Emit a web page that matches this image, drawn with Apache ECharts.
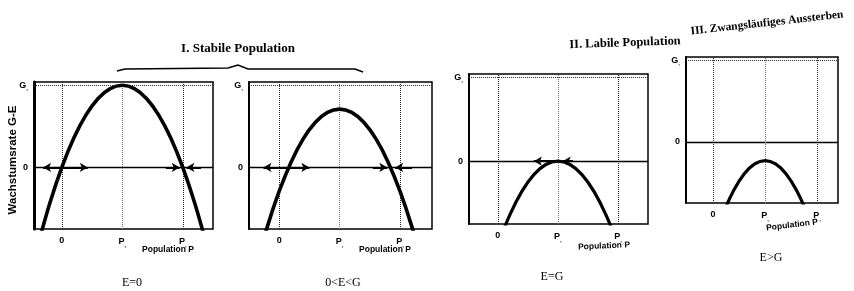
<!DOCTYPE html>
<html>
<head>
<meta charset="utf-8">
<title>Wachstumsrate G-E</title>
<script src="https://cdn.jsdelivr.net/npm/echarts@6/dist/echarts.min.js"></script>
<style>
  html, body { margin: 0; padding: 0; background: #fff; }
  #graph { width: 854px; height: 291px; }
</style>
</head>
<body>
<div id="graph"></div>
<script>
var chart = echarts.init(document.getElementById('graph'));

// Population (in Einheiten von P*) und Wachstumsrate G-E (in Einheiten von G)
var popX = [-0.4, -0.2, 0, 0.2, 0.4, 0.6, 0.8, 1.0, 1.2, 1.4, 1.6, 1.8, 2.0, 2.2, 2.4];
var rateE0 = [-0.96, -0.44, 0, 0.36, 0.64, 0.84, 0.96, 1.0, 0.96, 0.84, 0.64, 0.36, 0, -0.44, -0.96];
var rateEkleinG = [-1.25, -0.73, -0.29, 0.07, 0.35, 0.55, 0.67, 0.71, 0.67, 0.55, 0.35, 0.07, -0.29, -0.73, -1.25];
var rateEgleichG = [-1.96, -1.44, -1.0, -0.64, -0.36, -0.16, -0.04, 0, -0.04, -0.16, -0.36, -0.64, -1.0, -1.44, -1.96];
var rateEgrossG = [-2.19, -1.67, -1.23, -0.87, -0.59, -0.39, -0.27, -0.23, -0.27, -0.39, -0.59, -0.87, -1.23, -1.67, -2.19];

// Pfeile auf der Nulllinie: [von, nach]
var arrows1 = [[0, -0.31], [0, 0.43], [1.72, 1.95], [2.3, 2.06]];
var arrows2 = [[0.16, -0.26], [0.16, 0.5], [1.55, 1.79], [2.2, 1.92]];
var arrows3 = [[1, 0.6], [1.25, 1.08]];
var arrows4 = [];

// Achsenbeschriftung
var xTicks = [0, 1, 2];
var xTickMain = ['0', 'P', 'P'];
var xTickSub = ['', ',', ','];
var yTicks = [0, 1];
var yTickMain = ['0', 'G'];
var yTickSub = ['', ','];

var titles = ['I. Stabile Population', 'II. Labile Population', 'III. Zwangsläufiges Aussterben'];
var cases = ['E=0', '0<E<G', 'E=G', 'E>G'];

var curves = [rateE0, rateEkleinG, rateEgleichG, rateEgrossG];
var arrows = [arrows1, arrows2, arrows3, arrows4];

// Lage der vier Diagramme
var boxes = [
  { left: 34, top: 82, width: 179, height: 147, xmin: -0.46, xmax: 2.5 },
  { left: 249, top: 82, width: 183, height: 147, xmin: -0.5, xmax: 2.53 },
  { left: 469, top: 74, width: 179, height: 150, xmin: -0.48, xmax: 2.5 },
  { left: 686, top: 57, width: 152, height: 146, xmin: -0.52, xmax: 2.4 }
];
var ymin = -0.75, ymax = 1.04;

var rich = {
  m: { fontFamily: 'Liberation Sans', fontWeight: 'bold', fontSize: 9, color: '#000' },
  s: { fontFamily: 'Liberation Sans', fontWeight: 'bold', fontSize: 6, color: '#000', verticalAlign: 'bottom', padding: [6, 0, 0, 0] }
};

function tickFmt(ticks, main, sub) {
  return function (v) {
    var i = ticks.indexOf(v);
    if (i < 0) return '';
    return '{m|' + main[i] + '}' + (sub[i] ? '{s|' + sub[i] + '}' : '');
  };
}

var grids = [], xAxes = [], yAxes = [], series = [];
boxes.forEach(function (b, k) {
  grids.push({ left: b.left, top: b.top, width: b.width, height: b.height, show: true, borderColor: '#000', borderWidth: 1.5 });
  xAxes.push({
    type: 'value', gridIndex: k, min: b.xmin, max: b.xmax,
    axisLine: { show: false, onZero: false }, axisTick: { show: false }, splitLine: { show: false },
    axisLabel: { customValues: xTicks, margin: 7, formatter: tickFmt(xTicks, xTickMain, xTickSub), rich: rich }
  });
  yAxes.push({
    type: 'value', gridIndex: k, min: ymin, max: ymax,
    axisLine: { show: true, onZero: false, lineStyle: { color: '#000', width: k === 0 ? 3 : 2 } },
    axisTick: { show: false }, splitLine: { show: false },
    axisLabel: { customValues: yTicks, margin: 6, formatter: tickFmt(yTicks, yTickMain, yTickSub), rich: rich }
  });

  var pts = popX.map(function (x, i) { return [x, curves[k][i]]; });
  series.push({
    type: 'line', xAxisIndex: k, yAxisIndex: k, data: pts, smooth: 0.35, symbol: 'none', clip: true, z: 5,
    lineStyle: { color: '#000', width: k < 2 ? 3.6 : 3.2 },
    markLine: {
      silent: true, symbol: ['none', 'none'], label: { show: false }, animation: false,
      data: [
        { yAxis: 0, lineStyle: { color: '#000', width: 1.3, type: 'solid' } },
        { yAxis: 1, lineStyle: { color: '#333', width: 1, type: 'dotted' } },
        { xAxis: 0, lineStyle: { color: '#222', width: 1, type: 'dotted' } },
        { xAxis: 1, lineStyle: { color: '#777', width: 1, type: 'dotted' } },
        { xAxis: 2, lineStyle: { color: '#222', width: 1, type: 'dotted' } }
      ]
    }
  });
  series.push({
    type: 'line', xAxisIndex: k, yAxisIndex: k, data: [], z: 6,
    markLine: {
      silent: true, symbol: ['none', 'arrow'], symbolSize: [7, 8], label: { show: false }, animation: false,
      lineStyle: { color: '#000', width: 2, type: 'solid' },
      data: arrows[k].map(function (a) { return [{ coord: [a[0], 0] }, { coord: [a[1], 0] }]; })
    }
  });
});

var serif = 'Liberation Serif';
var sans = 'Liberation Sans';
function txt(x, y, s, font, rot) {
  return { type: 'text', x: x, y: y, rotation: rot || 0, style: { text: s, font: font, fill: '#000', align: 'center', verticalAlign: 'middle' } };
}
var graphic = [
  txt(238, 49, titles[0], 'bold 13px ' + serif),
  txt(625, 43, titles[1], 'bold 12.5px ' + serif, 0.035),
  txt(767, 23, titles[2], 'bold 11.5px ' + serif, 0.11),
  { type: 'polyline', shape: { points: [[117, 71], [125, 69], [228, 68], [238, 65], [248, 69], [355, 69], [363, 72]] }, style: { stroke: '#000', lineWidth: 1.4, fill: null } },
  txt(13, 160, 'Wachstumsrate G-E', 'bold 11.5px ' + sans, Math.PI / 2),
  txt(168, 250, 'Population P', 'bold 8.5px ' + sans),
  txt(385, 250, 'Population P', 'bold 8.5px ' + sans),
  txt(604, 246, 'Population P', 'bold 8.5px ' + sans, 0.04),
  txt(792, 225, 'Population P', 'bold 8.5px ' + sans, 0.12),
  txt(132, 283, cases[0], '12px ' + serif),
  txt(343, 283, cases[1], '12px ' + serif),
  txt(552, 277, cases[2], '12px ' + serif),
  txt(771, 258, cases[3], '12px ' + serif)
];

chart.setOption({
  animation: false,
  backgroundColor: '#fff',
  grid: grids,
  xAxis: xAxes,
  yAxis: yAxes,
  series: series,
  graphic: graphic
});
</script>
</body>
</html>
